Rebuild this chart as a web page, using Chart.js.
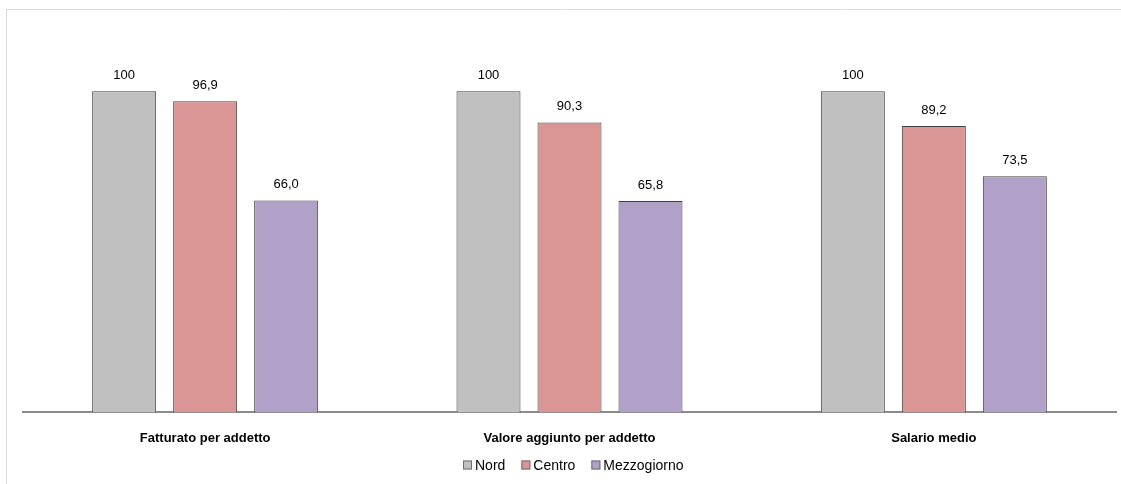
<!DOCTYPE html>
<html>
<head>
<meta charset="utf-8">
<script src="https://cdn.jsdelivr.net/npm/chart.js@4/dist/chart.umd.min.js"></script>
<style>
  html, body { margin: 0; padding: 0; background: #fff; }
  #wrap { width: 1121px; height: 484px; position: relative; }
</style>
</head>
<body>
<div id="wrap"><canvas id="myChart"></canvas></div>
<script>
const categories = ['Fatturato per addetto', 'Valore aggiunto per addetto', 'Salario medio'];
const nord = [100, 100, 100];
const centro = [96.9, 90.3, 89.2];
const mezzogiorno = [66.0, 65.8, 73.5];

const fontFamily = '"Liberation Sans", Arial, sans-serif';

// thin grey frame on the top and left side of the chart area
const frame = {
    id: 'frame',
    beforeDraw(chart) {
        const ctx = chart.ctx;
        ctx.save();
        ctx.strokeStyle = '#d9d9d9';
        ctx.lineWidth = 1;
        ctx.beginPath();
        ctx.moveTo(6.5, chart.height);
        ctx.lineTo(6.5, 9.5);
        ctx.lineTo(chart.width, 9.5);
        ctx.stroke();
        ctx.restore();
    }
};

// value above each bar, comma as decimal separator
const valueLabels = {
    id: 'valueLabels',
    afterDatasetsDraw(chart) {
        const ctx = chart.ctx;
        ctx.save();
        ctx.font = '13px ' + fontFamily;
        ctx.fillStyle = '#000';
        ctx.textAlign = 'center';
        ctx.textBaseline = 'alphabetic';
        chart.data.datasets.forEach((ds, i) => {
            chart.getDatasetMeta(i).data.forEach((bar, j) => {
                const v = ds.data[j];
                const txt = v === 100 ? '100' : v.toFixed(1).replace('.', ',');
                ctx.fillText(txt, bar.x, bar.y - 12);
            });
        });
        ctx.restore();
    }
};

// small legend under the category labels: square, then the series name
const bottomLegend = {
    id: 'bottomLegend',
    afterDraw(chart) {
        const ctx = chart.ctx;
        const box = 9, gapText = 3, gapItem = 16, y = 466;
        ctx.save();
        ctx.font = '14px ' + fontFamily;
        ctx.textBaseline = 'middle';
        ctx.textAlign = 'left';
        const items = chart.data.datasets.map(ds => ({
            text: ds.label, color: ds.backgroundColor, w: ctx.measureText(ds.label).width
        }));
        const total = items.reduce((s, it) => s + box + gapText + it.w, 0) + gapItem * (items.length - 1);
        let x = Math.round((chart.chartArea.left + chart.chartArea.right) / 2 + 4 - total / 2);
        items.forEach(it => {
            ctx.fillStyle = it.color;
            ctx.fillRect(x, y - box / 2 - 1, box, box);
            ctx.strokeStyle = '#6f6f6f';
            ctx.lineWidth = 1;
            ctx.strokeRect(x + 0.5, y - box / 2 - 0.5, box - 1, box - 1);
            ctx.fillStyle = '#000';
            ctx.fillText(it.text, x + box + gapText, y);
            x += box + gapText + it.w + gapItem;
        });
        ctx.restore();
    }
};

const data = {
    labels: categories,
    datasets: [
        { label: 'Nord', data: nord, backgroundColor: '#c0c0c0' },
        { label: 'Centro', data: centro, backgroundColor: '#da9694' },
        { label: 'Mezzogiorno', data: mezzogiorno, backgroundColor: '#b1a0c7' }
    ].map(ds => Object.assign(ds, {
        borderColor: '#404040',
        borderWidth: 1,
        borderSkipped: 'bottom',
        categoryPercentage: 0.667,
        barPercentage: 0.79
    }))
};

const config = {
    type: 'bar',
    data: data,
    options: {
        responsive: true,
        maintainAspectRatio: false,
        animation: false,
        layout: { padding: { left: 23, right: 5, top: 27, bottom: 20 } },
        scales: {
            x: {
                grid: { display: false, drawTicks: false },
                border: { color: '#8c8c8c', width: 2 },
                ticks: {
                    color: '#000',
                    padding: 18,
                    font: { family: fontFamily, size: 13, weight: 'bold' }
                }
            },
            y: {
                display: false,
                min: 0,
                max: 120
            }
        },
        plugins: {
            tooltip: { enabled: false },
            legend: { display: false }
        }
    },
    plugins: [frame, valueLabels, bottomLegend]
};

const myChart = new Chart(document.getElementById('myChart'), config);
</script>
</body>
</html>
